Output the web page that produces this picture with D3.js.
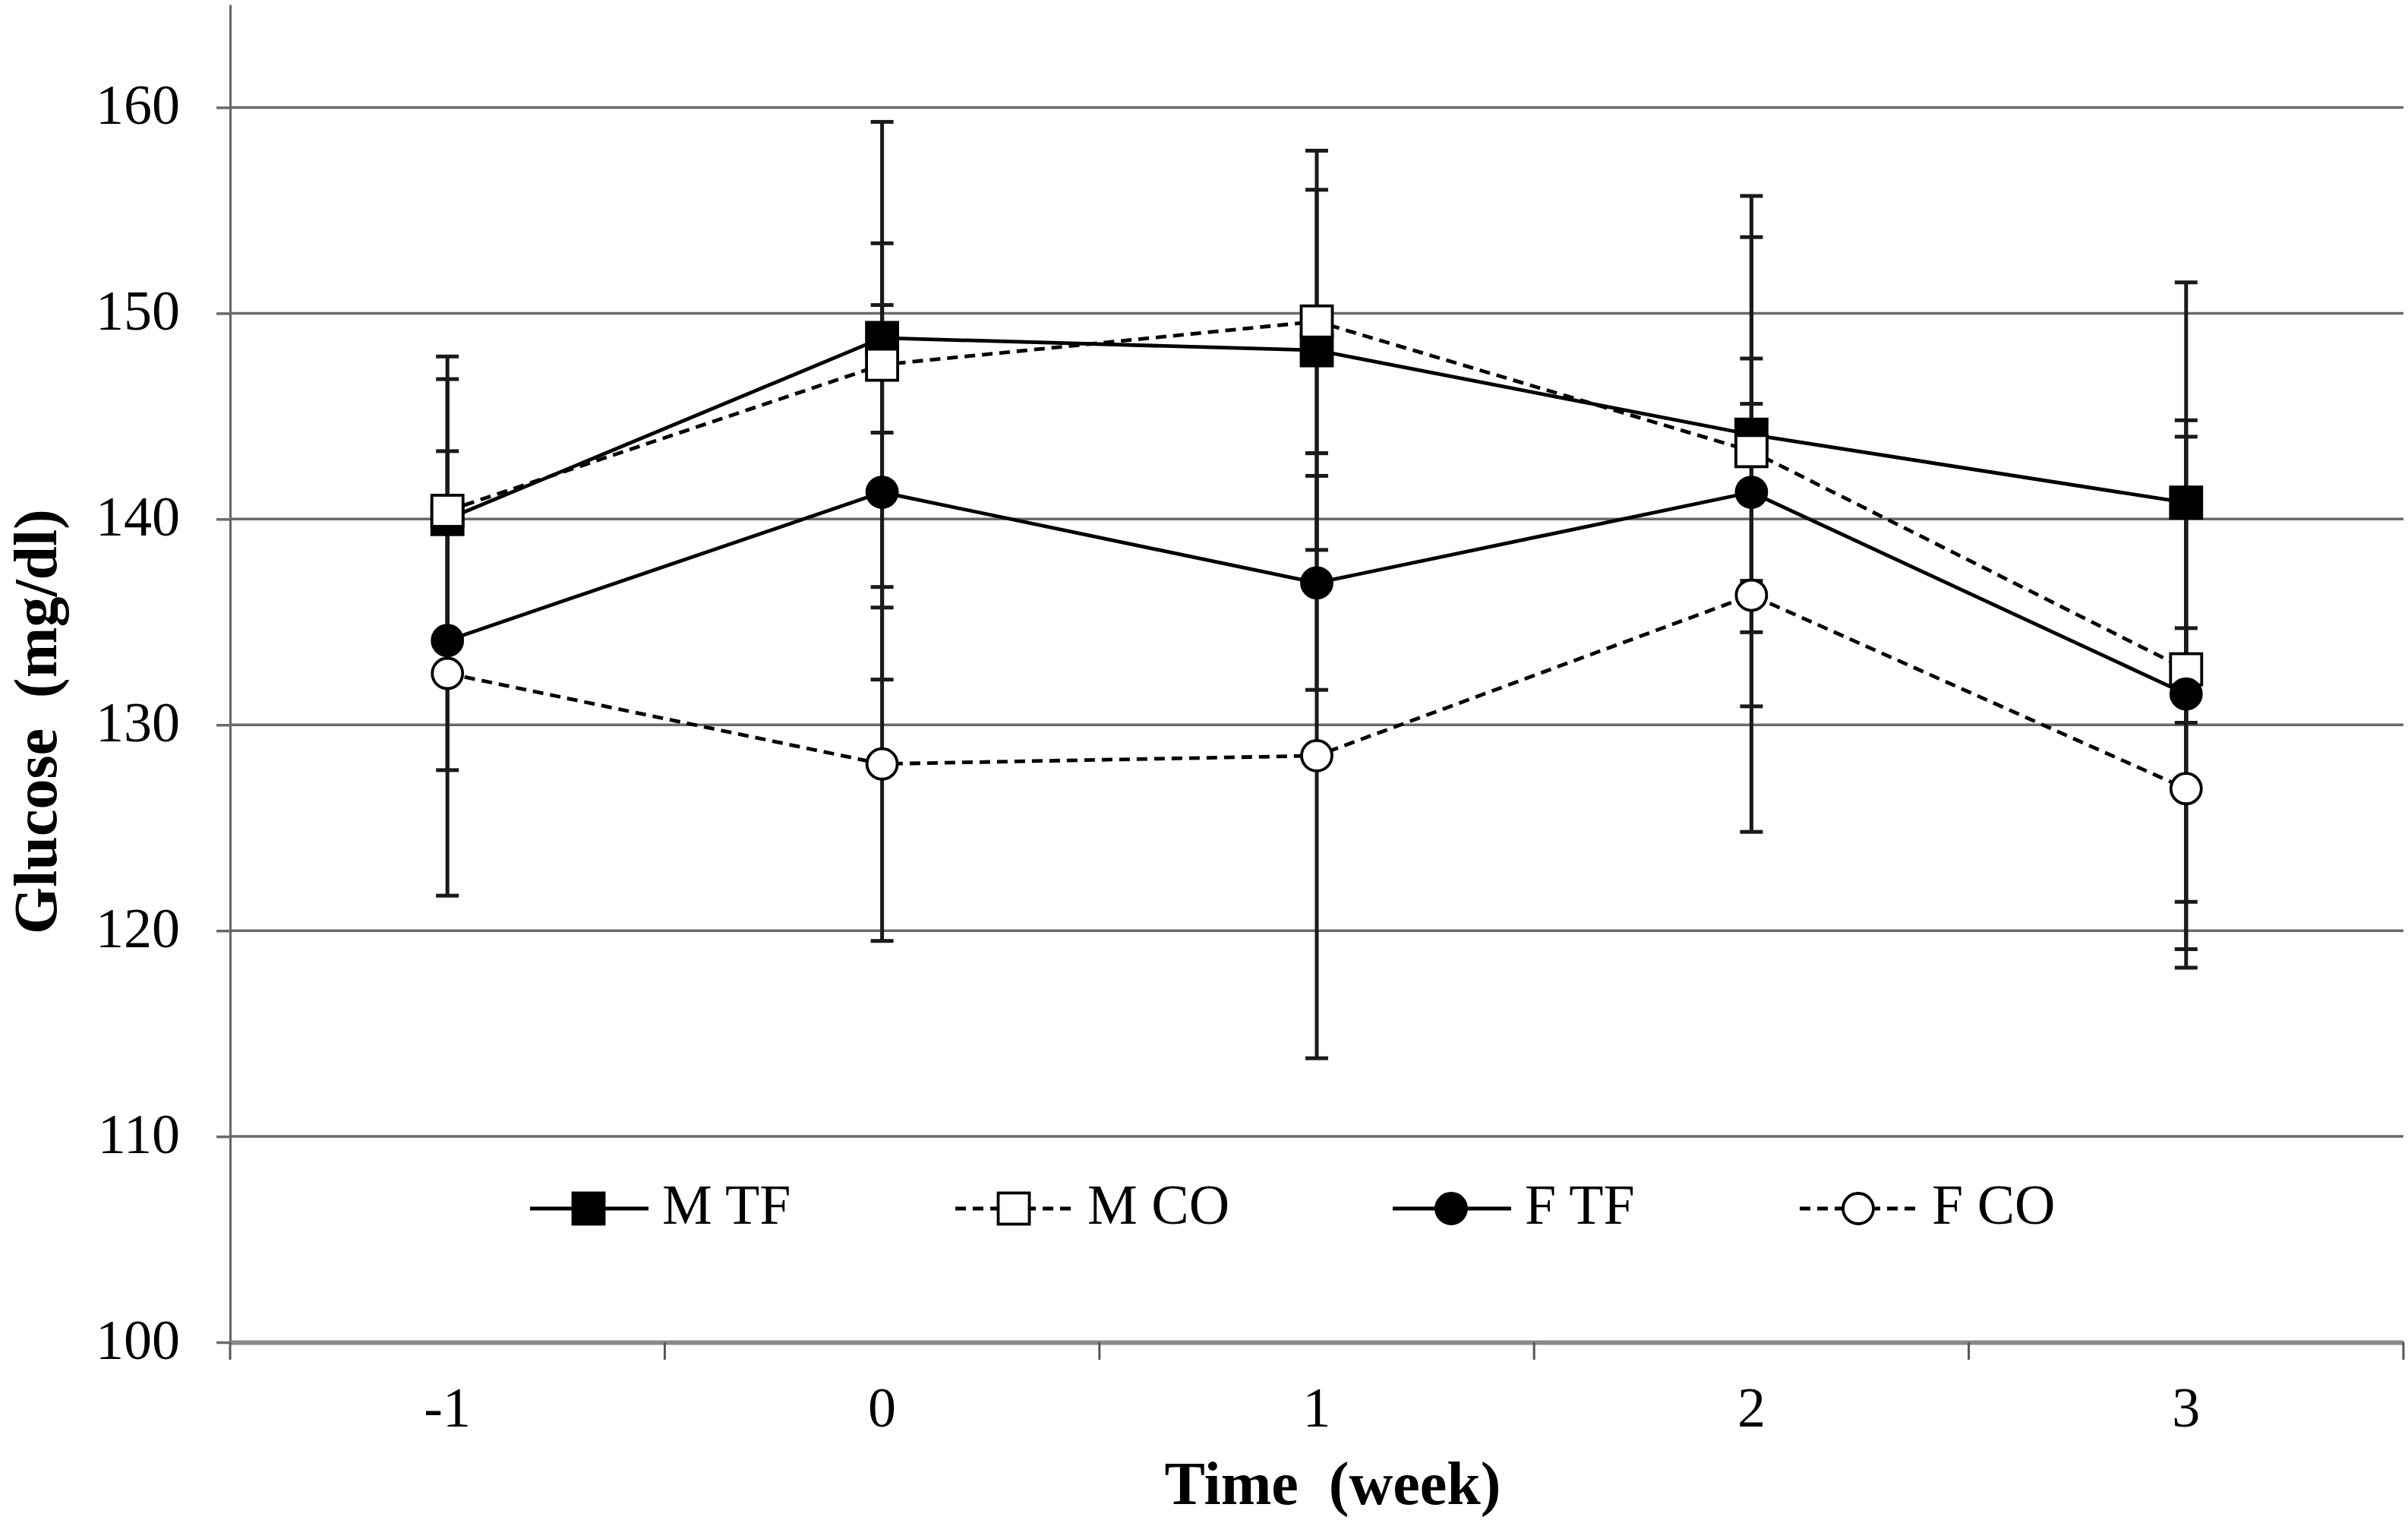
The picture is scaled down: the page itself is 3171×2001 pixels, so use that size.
<!DOCTYPE html>
<html>
<head>
<meta charset="utf-8">
<script src="https://cdn.jsdelivr.net/npm/d3@7/dist/d3.min.js"></script>
<style>
  html, body { margin: 0; padding: 0; background: #fff; }
  svg { display: block; }
  text { font-family: "Liberation Serif", "Times New Roman", serif; fill: #000; }
</style>
</head>
<body>
<svg id="chart" width="3171" height="2001"></svg>
<script>
// ---------- data ----------
const weeks = ["-1", "0", "1", "2", "3"];
const yTicks = [100, 110, 120, 130, 140, 150, 160];
const seriesNames = ["M TF", "M CO", "F TF", "F CO"];

const mTF   = [140.0, 148.8, 148.2, 144.1, 140.8];
const mTFsd = [7.9, 4.6, 9.7, 9.6, 10.7];
const mCO   = [140.4, 147.5, 149.6, 143.3, 132.7];
const mCOsd = [6.4, 11.8, 6.4, 12.4, 11.3];
const fTF   = [134.1, 141.3, 136.9, 141.3, 131.5];
const fTFsd = [6.3, 9.1, 5.2, 4.3, 13.3];
const fCO   = [132.5, 128.1, 128.5, 136.3, 126.9];
const fCOsd = [10.8, 8.6, 14.7, 11.5, 7.8];

// ---------- styles (not data) ----------
const styles = [
  { shape: "square", fill: "#000", dash: null },
  { shape: "square", fill: "#fff", dash: "14,9" },
  { shape: "circle", fill: "#000", dash: null },
  { shape: "circle", fill: "#fff", dash: "14,9" }
];
const series = [
  { name: seriesNames[0], vals: mTF, sd: mTFsd, st: styles[0] },
  { name: seriesNames[1], vals: mCO, sd: mCOsd, st: styles[1] },
  { name: seriesNames[2], vals: fTF, sd: fTFsd, st: styles[2] },
  { name: seriesNames[3], vals: fCO, sd: fCOsd, st: styles[3] }
];

const svg = d3.select("#chart");
svg.append("rect").attr("width", 3171).attr("height", 2001).attr("fill", "#fff");

const plotLeft = 303, plotRight = 3165, plotTop = 6, plotBottom = 1767;

const x = d3.scaleBand().domain(weeks).range([plotLeft, plotRight]).padding(0);
const cx = w => x(w) + x.bandwidth() / 2;
const y = d3.scaleLinear().domain([100, 165]).range([plotBottom, plotTop]);

// gridlines
svg.append("g").selectAll("line")
  .data(yTicks.filter(t => t > 100))
  .join("line")
  .attr("x1", plotLeft).attr("x2", plotRight)
  .attr("y1", d => y(d)).attr("y2", d => y(d))
  .attr("stroke", "#6a6a6a").attr("stroke-width", 3.5);

// y axis
const yAxis = svg.append("g")
  .attr("transform", `translate(${plotLeft},0)`)
  .call(d3.axisLeft(y).tickValues(yTicks).tickSize(18).tickSizeOuter(0).tickPadding(48));
yAxis.select(".domain").attr("stroke", "#666").attr("stroke-width", 3);
yAxis.selectAll(".tick line").attr("stroke", "#6a6a6a").attr("stroke-width", 3.5);
yAxis.selectAll(".tick text")
  .attr("font-size", 74)
  .attr("font-family", "Liberation Serif, Times New Roman, serif")
  .attr("dy", "0.29em");

// x axis
const xAxis = svg.append("g")
  .attr("transform", `translate(0,${plotBottom})`)
  .call(d3.axisBottom(x).tickSize(0).tickSizeOuter(0).tickPadding(58));
xAxis.select(".domain").attr("stroke", "#8a8a8a").attr("stroke-width", 6);
xAxis.selectAll(".tick text")
  .attr("font-size", 74)
  .attr("font-family", "Liberation Serif, Times New Roman, serif");

// x boundary tick marks
const boundaries = d3.range(weeks.length + 1).map(i => plotLeft + i * x.step());
svg.append("g").selectAll("line")
  .data(boundaries)
  .join("line")
  .attr("x1", d => d).attr("x2", d => d)
  .attr("y1", plotBottom).attr("y2", plotBottom + 23)
  .attr("stroke", "#555").attr("stroke-width", 3);

// error bars
const eb = svg.append("g");
series.forEach(s => {
  s.vals.forEach((v, i) => {
    const xc = cx(weeks[i]);
    const hi = y(v + s.sd[i]), lo = y(v - s.sd[i]);
    eb.append("line").attr("x1", xc).attr("x2", xc).attr("y1", hi).attr("y2", lo)
      .attr("stroke", "#1a1a1a").attr("stroke-width", 5);
    [hi, lo].forEach(yy => {
      eb.append("line").attr("x1", xc - 15).attr("x2", xc + 15).attr("y1", yy).attr("y2", yy)
        .attr("stroke", "#1a1a1a").attr("stroke-width", 5);
    });
  });
});

// lines
const line = d3.line().x((d, i) => cx(weeks[i])).y(d => y(d));
series.forEach(s => {
  svg.append("path")
    .datum(s.vals)
    .attr("d", line)
    .attr("fill", "none")
    .attr("stroke", "#000")
    .attr("stroke-width", 4.8)
    .attr("stroke-dasharray", s.st.dash);
});

// markers
function marker(g, shape, fill, px, py) {
  if (shape === "square") {
    g.append("rect").attr("x", px - 20.5).attr("y", py - 20.5).attr("width", 41).attr("height", 41)
      .attr("fill", fill).attr("stroke", "#000").attr("stroke-width", 3.8);
  } else {
    g.append("circle").attr("cx", px).attr("cy", py).attr("r", 20)
      .attr("fill", fill).attr("stroke", "#000").attr("stroke-width", 3.8);
  }
}
series.forEach(s => {
  const g = svg.append("g");
  s.vals.forEach((v, i) => marker(g, s.st.shape, s.st.fill, cx(weeks[i]), y(v)));
});

// legend
const legendX = [698, 1258, 1834, 2370];
const legendY = 1591;
series.forEach((s, i) => {
  const g = svg.append("g");
  const x0 = legendX[i];
  g.append("line").attr("x1", x0).attr("x2", x0 + 156).attr("y1", legendY).attr("y2", legendY)
    .attr("stroke", "#000").attr("stroke-width", 5).attr("stroke-dasharray", s.st.dash);
  marker(g, s.st.shape, s.st.fill, x0 + 77, legendY);
  g.append("text").attr("x", x0 + 174).attr("y", legendY + 20)
    .attr("font-size", 74).text(s.name);
});

// axis titles
svg.append("text")
  .attr("x", 1755).attr("y", 1980)
  .attr("text-anchor", "middle")
  .attr("font-size", 80).attr("font-weight", "bold")
  .style("white-space", "pre")
  .text("Time  (week)");

svg.append("text")
  .attr("transform", "translate(74,950) rotate(-90)")
  .attr("text-anchor", "middle")
  .attr("font-size", 80).attr("font-weight", "bold")
  .style("white-space", "pre")
  .text("Glucose  (mg/dl)");
</script>
</body>
</html>
